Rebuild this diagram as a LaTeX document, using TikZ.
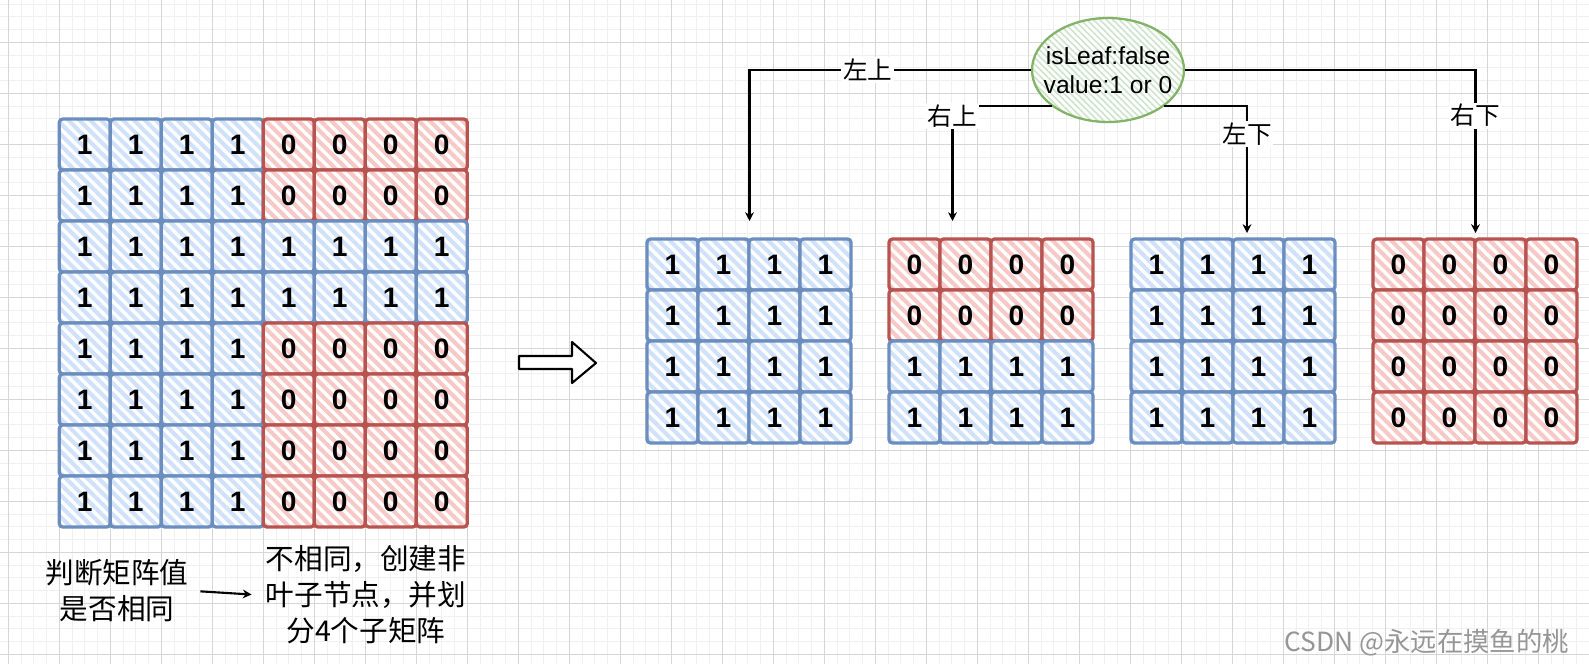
\documentclass[tikz,border=0pt]{standalone}
\usepackage{fontspec}
\setmainfont{Liberation Sans}
\newfontfamily\cjk{Noto Sans CJK SC}
\definecolor{qtblue}{RGB}{108,142,191}
\definecolor{qtbluefill}{RGB}{208,225,250}
\definecolor{qtred}{RGB}{184,84,80}
\definecolor{qtredfill}{RGB}{246,200,198}
\definecolor{qtgreen}{RGB}{130,179,102}
\definecolor{qtgreenfill}{RGB}{205,228,203}
\definecolor{qtgridmajor}{RGB}{214,214,214}
\definecolor{qtgridminor}{RGB}{240,240,240}
\definecolor{qtmark}{RGB}{150,150,150}
\usetikzlibrary{arrows.meta,positioning,shapes.geometric,patterns.meta}

\tikzset{
  hatch/.style={preaction={fill=white}, pattern={Lines[angle=-45,distance=4.4pt,line width=2.3pt]}, pattern color=#1},
  cellbox/.style={draw, line width=1.9pt, rounded corners=2pt, minimum size=1.02cm, inner sep=0pt, font=\fontsize{16}{18}\selectfont\bfseries},
  bluecell/.style={cellbox, draw=qtblue, hatch=qtbluefill},
  redcell/.style={cellbox, draw=qtred, hatch=qtredfill},
  branch/.style={line width=1.2pt, -{Stealth[open,length=5pt,width=5pt]}},
  branchlabel/.style={fill=white, inner sep=1pt, font=\cjk\fontsize{14}{16}\selectfont},
  note/.style={align=center, font=\cjk\fontsize{16.3}{20.5}\selectfont},
}

%% one matrix cell: name, x, y, value
\newcommand{\qcell}[4]{\ifnum#4=1 \node[bluecell] (#1) at (#2,#3) {1};\else\node[redcell] (#1) at (#2,#3) {0};\fi}

\begin{document}
\begin{tikzpicture}[x=0.02cm, y=-0.02cm]
  \useasboundingbox (0,0) rectangle (1589,664);

  %% Canvas grid
  \fill[white] (0,0) rectangle (1589,664);
  \foreach \i in {0,...,124} \draw[qtgridminor, line width=0.5pt] ({8.3+12.75*\i},0) -- ({8.3+12.75*\i},664);
  \foreach \j in {0,...,51}  \draw[qtgridminor, line width=0.5pt] (0,{4.05+12.75*\j}) -- (1589,{4.05+12.75*\j});
  \foreach \i in {0,...,31}  \draw[qtgridmajor, line width=0.5pt] ({8.3+51*\i},0) -- ({8.3+51*\i},664);
  \foreach \j in {-1,...,12} \draw[qtgridmajor, line width=0.5pt] (0,{42.3+51*\j}) -- (1589,{42.3+51*\j});

  %% Left: the 8x8 matrix
  \foreach \r in {0,...,7}
    \foreach \c in {0,...,7}{
      \pgfmathtruncatemacro{\v}{(\c<4)||(\r==2)||(\r==3)}
      \qcell{b-\r-\c}{84.8+51*\c}{144.5+51*\r}{\v}
    }

  %% Notes under the matrix
  \node[note] (same-q) at (117,591) {判断矩阵值\\是否相同};
  \node[note] (split-a) at (366,595) {不相同，创建非\\叶子节点，并划\\分4个子矩阵};
  \draw[branch, shorten <=0.11cm, shorten >=0.16cm] (same-q.east) -- (split-a.west);

  %% Hollow arrow
  \draw[line width=1.2pt, fill=white, line join=round] (519,356) -- (572,356) -- (572,342) -- (596,363) -- (572,383) -- (572,369) -- (519,369) -- cycle;

  %% Right: the four 4x4 sub-matrices
  \foreach \m in {0,...,3}
    \foreach \r in {0,...,3}
      \foreach \c in {0,...,3}{
        \pgfmathtruncatemacro{\v}{(\m==0)||(\m==2)||((\m==1)&&(\r>1))}
        \qcell{q\m-\r-\c}{672.5+242*\m+51*\c}{264.5+51*\r}{\v}
      }

  %% Root node
  \node[ellipse, draw=qtgreen, line width=1.3pt, hatch=qtgreenfill, pattern={Lines[angle=-45,distance=2.6pt,line width=0.9pt]}, minimum width=3.04cm, minimum height=2.08cm, inner sep=0pt] (root) at (1108,70) {};
  \node[align=center, font=\fontsize{14}{16.5}\selectfont] (root-text) at (root.center) {isLeaf:false\\value:1 or 0};

  %% Branch ends above the sub-matrices
  \coordinate (tl) at (749.5,221);
  \coordinate (tr) at (952.5,221);
  \coordinate (bl) at (1247,233);
  \coordinate (br) at (1475.5,233);

  %% Branches
  \draw[branch] (root.west) -| node[branchlabel, pos=0.29] (lbl-tl) {左上} (tl);
  \draw[branch] (root.213)  -| node[branchlabel, pos=0.5, yshift=-0.2cm] (lbl-tr) {右上} (tr);
  \draw[branch] (root.327)  -| node[branchlabel, pos=0.61] (lbl-bl) {左下} (bl);
  \draw[branch] (root.east) -| node[branchlabel, pos=0.64] (lbl-br) {右下} (br);

  %% Watermark
  \node[font=\cjk\fontsize{15}{18}\selectfont, text=qtmark, anchor=east] (mark) at (1575,643) {CSDN @永远在摸鱼的桃};
\end{tikzpicture}
\end{document}
